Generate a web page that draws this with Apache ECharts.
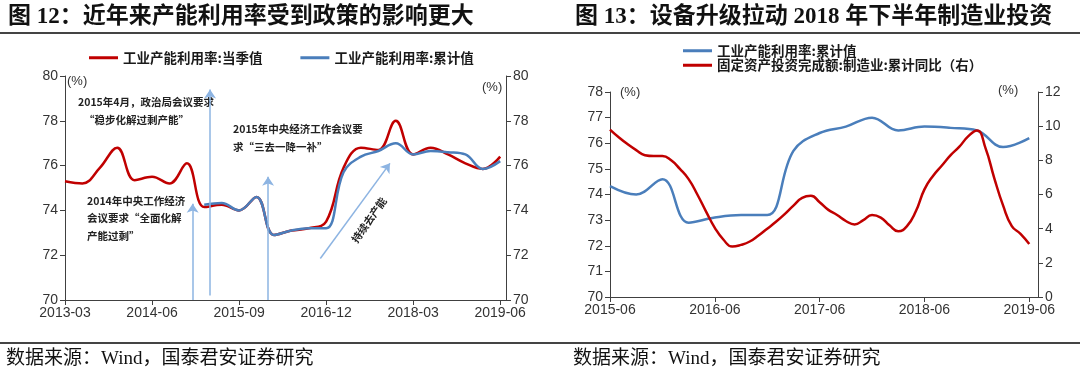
<!DOCTYPE html>
<html><head><meta charset="utf-8">
<script src="https://cdn.jsdelivr.net/npm/echarts@6/dist/echarts.min.js"></script>
<style>html,body{margin:0;padding:0;background:#fff}#c{width:1080px;height:381px}</style>
</head><body><div id="c"></div><script>
// ---------------- data ----------------
const leftQuarters = ['2013-03','2013-06','2013-09','2013-12','2014-03','2014-06','2014-09','2014-12',
  '2015-03','2015-06','2015-09','2015-12','2016-03','2016-06','2016-09','2016-12',
  '2017-03','2017-06','2017-09','2017-12','2018-03','2018-06','2018-09','2018-12','2019-03','2019-06'];
// 工业产能利用率:当季值
const utilQuarterly = [75.3,75.2,75.9,76.8,75.35,75.5,75.2,76.1,74.15,74.25,74.0,74.6,72.9,73.1,73.2,73.5,
  75.9,76.8,76.7,78.0,76.5,76.8,76.5,76.1,75.85,76.4];
// 工业产能利用率:累计值
const utilCumulative = [null,null,null,null,null,null,null,null,74.25,74.33,74.0,74.6,72.9,73.1,73.2,73.2,
  75.7,76.4,76.65,77.0,76.5,76.65,76.6,76.5,75.85,76.2];
// 固定资产投资完成额:制造业:累计同比, 2015-06 .. 2019-06 monthly
const mfgFaiYoY = [9.8,9.35,8.95,8.6,8.3,8.25,8.25,8.0,7.5,6.9,6.0,5.0,4.05,3.35,2.95,3.05,3.25,3.6,4.0,
  4.4,4.85,5.35,5.8,5.92,5.55,5.1,4.8,4.45,4.25,4.5,4.8,4.65,4.2,3.85,4.15,5.0,6.3,7.1,7.7,8.3,8.8,9.4,
  9.75,8.7,6.95,5.36,4.15,3.7,3.1];
const leftYTicks = {min:70, max:80, step:2};
const rightLeftYTicks = {min:70, max:78, step:1};
const rightRightYTicks = {min:0, max:12, step:2};

function monthRange(start, end){
  let [y,m] = start.split('-').map(Number); const out=[];
  while(true){ const s = y+'-'+String(m).padStart(2,'0'); out.push(s); if(s===end) break; m++; if(m>12){m=1;y++;} }
  return out;
}
const leftMonths = monthRange('2013-03','2019-07');
const rightMonths = monthRange('2015-06','2019-07');
const fiMonths = monthRange('2015-06','2019-06');

const nameRedL = '工业产能利用率:当季值';
const nameBlue = '工业产能利用率:累计值';
const nameRedR = '固定资产投资完成额:制造业:累计同比（右）';

const RED = '#C00000', BLUE = '#4A7EBB', ARROW = '#8DB4E2', AXIS = '#404040', LBL = '#333';
const NUMFONT = '"Liberation Sans", Arial, sans-serif';
const CJK = '"Noto Sans CJK SC", sans-serif';

const idxL = c => leftMonths.indexOf(c);
const arrows = [
  [{coord:[idxL('2015-01'),70]},{coord:[idxL('2015-01'),74.3]}],
  [{coord:[idxL('2015-04'),70.2]},{coord:[idxL('2015-04'),79.4]}],
  [{coord:[idxL('2016-02'),70]},{coord:[idxL('2016-02'),75.5]}],
  [{coord:[idxL('2016-11'),71.85]},{coord:[idxL('2017-11'),76.1]}]
];

function xAx(gi, data, interval){
  return {gridIndex:gi, type:'category', data, boundaryGap:false,
    axisLine:{show:true, lineStyle:{color:AXIS, width:1}},
    axisTick:{show:true, interval, length:5, lineStyle:{color:AXIS}},
    axisLabel:{interval, fontSize:14, color:LBL, fontFamily:NUMFONT, margin:6},
    splitLine:{show:false}};
}
function yAx(gi, pos, t){
  return {gridIndex:gi, type:'value', position:pos, min:t.min, max:t.max, interval:t.step,
    axisLine:{show:true, lineStyle:{color:AXIS, width:1}},
    axisTick:{show:true, length:5, lineStyle:{color:AXIS}},
    axisLabel:{fontSize:14, color:LBL, fontFamily:NUMFONT, margin:7},
    splitLine:{show:false}};
}
function txt(x,y,text,font,extra){
  return Object.assign({type:'text', x, y, silent:true,
    style:Object.assign({text, font, fill:'#222', textVerticalAlign:'middle'}, extra||{})});
}
const annFont = 'bold 10.5px ' + CJK;
const titleFont = 'bold 23px "Liberation Serif", "Noto Sans CJK SC", serif';
const srcFont = '19px "Liberation Serif", "Noto Sans CJK SC", serif';

const chart = echarts.init(document.getElementById('c'), null, {renderer:'canvas'});
chart.setOption({
  animation:false,
  backgroundColor:'#fff',
  grid:[
    {left:65, top:76, width:441, height:224},
    {left:610, top:92, width:428, height:205}
  ],
  xAxis:[xAx(0,leftMonths,14), xAx(1,rightMonths,11)],
  yAxis:[yAx(0,'left',leftYTicks), yAx(0,'right',leftYTicks), yAx(1,'left',rightLeftYTicks), yAx(1,'right',rightRightYTicks)],
  legend:[
    {data:[nameRedL,nameBlue], left:84, top:46, icon:'rect', itemWidth:29, itemHeight:3, itemGap:38,
      textStyle:{fontSize:13.5, fontWeight:'bold', color:'#1a1a1a', fontFamily:CJK}},
    {data:[nameBlue,nameRedR], orient:'vertical', left:678, top:39, icon:'rect', itemWidth:29, itemHeight:3, itemGap:1,
      textStyle:{fontSize:13.5, fontWeight:'bold', color:'#1a1a1a', fontFamily:CJK}}
  ],
  series:[
    {name:nameRedL, type:'line', xAxisIndex:0, yAxisIndex:0, smooth:0.4, symbol:'none',
      data:leftQuarters.map((q,i)=>[q, utilQuarterly[i]]),
      lineStyle:{color:RED, width:2.5}, itemStyle:{color:RED},
      markLine:{silent:true, symbol:['none','arrow'], symbolSize:9, label:{show:false},
        lineStyle:{color:ARROW, width:1.5, type:'solid'}, data:arrows}},
    {name:nameBlue, type:'line', xAxisIndex:0, yAxisIndex:0, smooth:0.4, symbol:'none',
      data:leftQuarters.map((q,i)=>[q, utilCumulative[i]]).filter(d=>d[1]!==null),
      lineStyle:{color:BLUE, width:2.5}, itemStyle:{color:BLUE}},
    {name:nameBlue, type:'line', xAxisIndex:1, yAxisIndex:2, smooth:0.4, symbol:'none',
      data:leftQuarters.map((q,i)=>[q, utilCumulative[i]]).filter(d=>d[1]!==null && rightMonths.indexOf(d[0])>=0),
      lineStyle:{color:BLUE, width:2.5}, itemStyle:{color:BLUE}},
    {name:nameRedR, type:'line', xAxisIndex:1, yAxisIndex:3, smooth:0.5, symbol:'none',
      data:fiMonths.map((m,i)=>[m, mfgFaiYoY[i]]),
      lineStyle:{color:RED, width:2.5}, itemStyle:{color:RED}}
  ],
  graphic:[
    {type:'line', silent:true, shape:{x1:0,y1:33,x2:1080,y2:33}, style:{stroke:'#444', lineWidth:2}},
    {type:'line', silent:true, shape:{x1:0,y1:343,x2:1080,y2:343}, style:{stroke:'#444', lineWidth:2}},
    txt(8,17,'图 12：近年来产能利用率受到政策的影响更大',titleFont,{fill:'#111'}),
    txt(575,17,'图 13：设备升级拉动 2018 年下半年制造业投资',titleFont,{fill:'#111'}),
    txt(6,359,'数据来源：Wind，国泰君安证券研究',srcFont,{fill:'#111'}),
    txt(573,359,'数据来源：Wind，国泰君安证券研究',srcFont,{fill:'#111'}),
    txt(67,81,'(%)','13px '+NUMFONT,{fill:LBL}),
    txt(482,87,'(%)','13px '+NUMFONT,{fill:LBL}),
    txt(620,92,'(%)','13px '+NUMFONT,{fill:LBL}),
    txt(998,90,'(%)','13px '+NUMFONT,{fill:LBL}),
    txt(78,102,'2015年4月，政治局会议要求',annFont),
    txt(84,120,'“稳步化解过剩产能”',annFont),
    txt(233,129,'2015年中央经济工作会议要',annFont),
    txt(233,147,'求“三去一降一补”',annFont),
    txt(87,201,'2014年中央工作经济',annFont),
    txt(87,218,'会议要求“全面化解',annFont),
    txt(87,236,'产能过剩”',annFont),
    {type:'text', x:369, y:220, rotation:55*Math.PI/180, silent:true,
      style:{text:'持续去产能', font:annFont, fill:'#222', textAlign:'center', textVerticalAlign:'middle'}}
  ]
});
</script></body></html>
